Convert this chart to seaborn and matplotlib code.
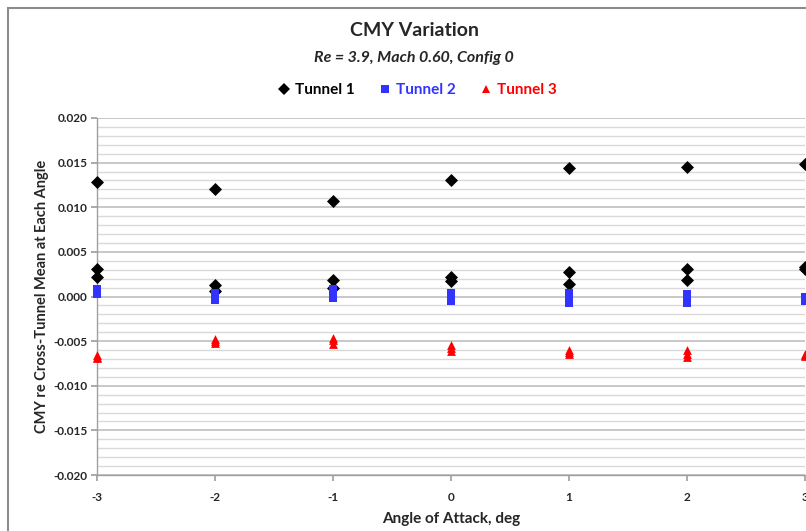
import numpy as np
import pandas as pd
import matplotlib
matplotlib.use("Agg")
import matplotlib.pyplot as plt
from matplotlib.patches import Rectangle
from matplotlib.lines import Line2D
from matplotlib.ticker import MultipleLocator, FormatStrFormatter
import seaborn as sns

# ---- data ----
angles = [-3, -2, -1, 0, 1, 2, 3]
tunnel1_a = [0.0128, 0.0121, 0.0107, 0.0131, 0.0144, 0.0145, 0.0149]
tunnel1_b = [0.0031, 0.0013, 0.0019, 0.0022, 0.0028, 0.0031, 0.0033]
tunnel1_c = [0.0022, 0.0006, 0.0009, 0.0017, 0.0014, 0.0019, 0.0031]
tunnel2_a = [0.0008, 0.0004, 0.0008, 0.0004, 0.0004, 0.0003, -0.0001]
tunnel2_b = [0.0006, 0.0000, 0.0003, 0.0000, -0.0002, -0.0002, -0.0003]
tunnel2_c = [0.0003, -0.0004, -0.0002, -0.0005, -0.0007, -0.0007, -0.0005]
tunnel3_a = [-0.0066, -0.0048, -0.0046, -0.0054, -0.0060, -0.0060, -0.0064]
tunnel3_b = [-0.0068, -0.0050, -0.0049, -0.0058, -0.0062, -0.0064, -0.0066]
tunnel3_c = [-0.0069, -0.0052, -0.0053, -0.0061, -0.0064, -0.0068, -0.0067]
series_names = ["Tunnel 1", "Tunnel 2", "Tunnel 3"]
title = "CMY Variation"
subtitle = "Re = 3.9, Mach 0.60, Config 0"
xlabel = "Angle of Attack, deg"
ylabel = "CMY re Cross-Tunnel Mean at Each Angle"

rows = []
for name, runs in zip(series_names,
                      [[tunnel1_a, tunnel1_b, tunnel1_c],
                       [tunnel2_a, tunnel2_b, tunnel2_c],
                       [tunnel3_a, tunnel3_b, tunnel3_c]]):
    for run in runs:
        for a, v in zip(angles, run):
            rows.append({"angle": a, "value": v, "tunnel": name})
df = pd.DataFrame(rows)

sns.set_theme(style="white")
plt.rcParams["font.family"] = ["Lato", "DejaVu Sans"]
plt.rcParams["axes.unicode_minus"] = False

colors = {"Tunnel 1": "#000000", "Tunnel 2": "#3333FF", "Tunnel 3": "#FF0000"}
markers = {"Tunnel 1": "D", "Tunnel 2": "s", "Tunnel 3": "^"}
sizes = {"Tunnel 1": 44, "Tunnel 2": 38, "Tunnel 3": 40}

fig = plt.figure(figsize=(8.06, 5.31), dpi=100)
ax = fig.add_axes([97 / 806, 1 - 475 / 531, (805 - 97) / 806, (475 - 118) / 531])

for name in series_names:
    sub = df[df["tunnel"] == name]
    sns.scatterplot(data=sub, x="angle", y="value", ax=ax, color=colors[name],
                    marker=markers[name], s=sizes[name], linewidth=0,
                    clip_on=False, zorder=3, legend=False)

ax.set_xlim(-3, 3)
ax.set_ylim(-0.020, 0.020)
ax.xaxis.set_major_locator(MultipleLocator(1))
ax.yaxis.set_major_locator(MultipleLocator(0.005))
ax.yaxis.set_minor_locator(MultipleLocator(0.001))
ax.yaxis.set_major_formatter(FormatStrFormatter("%.3f"))
ax.grid(False)
ax.grid(which="minor", axis="y", color="#d9d9d9", linewidth=1.0, zorder=0)
ax.grid(which="major", axis="y", color="#bfbfbf", linewidth=1.2, zorder=0)
ax.set_axisbelow(True)

for s in ["top", "right"]:
    ax.spines[s].set_visible(False)
for s in ["left", "bottom"]:
    ax.spines[s].set_color("#a0a0a0")
    ax.spines[s].set_linewidth(1.0)

ax.tick_params(axis="both", which="major", direction="out", length=4,
               color="#a0a0a0", labelsize=8.5, pad=3, left=True, bottom=True)
ax.tick_params(axis="y", which="minor", length=0)
for lab in ax.get_xticklabels() + ax.get_yticklabels():
    lab.set_fontweight("bold")
ax.tick_params(axis="x", pad=8)

ax.set_xlabel(xlabel, fontsize=11, fontweight="bold", labelpad=7)
ax.set_ylabel(ylabel, fontsize=10.5, fontweight="bold", labelpad=3)

fig.text(0.514, 1 - 31 / 531, title, ha="center", va="center",
         fontsize=14, fontweight="bold")
fig.text(0.514, 1 - 58 / 531, subtitle, ha="center", va="center",
         fontsize=11.5, fontweight="bold", style="italic")

handles = [Line2D([], [], linestyle="none", marker=markers[n], color=colors[n],
                  markersize=6, markeredgewidth=0)
           for n in series_names]
leg = fig.legend(handles, series_names, loc="center", ncol=3,
                 bbox_to_anchor=(0.518, 1 - 90 / 531), frameon=False,
                 handlelength=0.8, handletextpad=0.3, columnspacing=1.6,
                 prop={"size": 11, "weight": "bold"})
for t, n in zip(leg.get_texts(), series_names):
    t.set_color(colors[n])

fig.patches.append(Rectangle((8 / 806, -0.01), 1.0, 1 - 8 / 531 + 0.01,
                             transform=fig.transFigure, fill=False,
                             edgecolor="#8c8c8c", linewidth=1.5))

fig.savefig("out.png", dpi=100)
